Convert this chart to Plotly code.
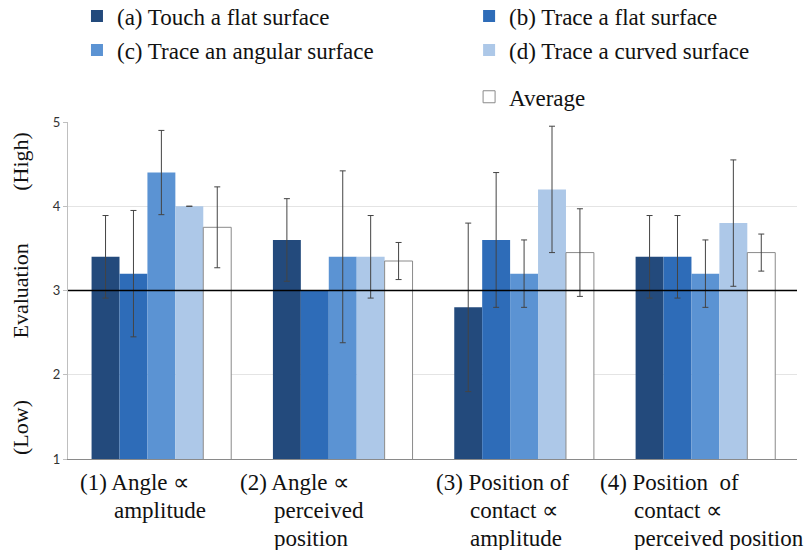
import plotly.graph_objects as go

categories = ["(1) Angle ∝ amplitude", "(2) Angle ∝ perceived position",
              "(3) Position of contact ∝ amplitude", "(4) Position of contact ∝ perceived position"]
category_label_lines = [
    ["(1) Angle ∝", "amplitude"],
    ["(2) Angle ∝", "perceived", "position"],
    ["(3) Position of", "contact ∝", "amplitude"],
    ["(4) Position\u00a0\u00a0of", "contact ∝", "perceived position"],
]
series_names = ["(a) Touch a flat surface", "(b) Trace a flat surface",
                "(c) Trace an angular surface", "(d) Trace a curved surface", "Average"]

touch_flat = [3.4, 3.6, 2.8, 3.4]
touch_flat_err = [0.49, 0.49, 1.0, 0.49]
trace_flat = [3.2, 3.0, 3.6, 3.4]
trace_flat_err = [0.75, 0.0, 0.8, 0.49]
trace_angular = [4.4, 3.4, 3.2, 3.2]
trace_angular_err = [0.5, 1.02, 0.4, 0.4]
trace_curved = [4.0, 3.4, 4.2, 3.8]
trace_curved_err = [0.0, 0.49, 0.75, 0.75]
average = [3.75, 3.35, 3.45, 3.45]
average_err = [0.48, 0.22, 0.52, 0.22]

y_ticks = [1, 2, 3, 4, 5]
neutral_level = 3

colors = ["#234a7c", "#2e6cb8", "#5b93d3", "#adc8e8", "#ffffff"]
values = [touch_flat, trace_flat, trace_angular, trace_curved, average]
errors = [touch_flat_err, trace_flat_err, trace_angular_err, trace_curved_err, average_err]

SERIF = "Liberation Serif, Times New Roman, serif"
TXT = "#111111"

# one legend per entry, placed in container coordinates
legend_ids = ["legend2", "legend3", "legend4", "legend5", "legend6"]
legend_pos = [(0.0955, 0.971), (0.582, 0.971), (0.0955, 0.909), (0.582, 0.909), (0.582, 0.824)]

fig = go.Figure()
for i, (name, vals, errs, col) in enumerate(zip(series_names, values, errors, colors)):
    fig.add_trace(go.Bar(
        x=categories, y=vals, name=name,
        marker=dict(color=col, line=dict(color="#8a8a8a" if i == 4 else col, width=1 if i == 4 else 0)),
        error_y=dict(type="data", array=errs, visible=True, color="#444444", thickness=1, width=3),
        legend=legend_ids[i],
    ))

fig.add_shape(type="line", xref="paper", yref="y", x0=0, x1=1, y0=neutral_level, y1=neutral_level,
              line=dict(color="#000000", width=1.5), layer="above")

label_shifts = [-83, -105, -90, -107]
indent = 34
line_step = 28
for i, lines in enumerate(category_label_lines):
    for k, txt in enumerate(lines):
        fig.add_annotation(x=i, y=0, xref="x", yref="paper", text=txt, showarrow=False,
                           xanchor="left", yanchor="middle",
                           xshift=label_shifts[i] + (indent if k > 0 else 0),
                           yshift=-23 - k * line_step,
                           font=dict(family=SERIF, size=23, color=TXT))

for txt, yv in [("(High)", 4.54), ("Evaluation", 3.0), ("(Low)", 1.38)]:
    fig.add_annotation(x=-0.0645, y=yv, xref="paper", yref="y", text=txt, showarrow=False,
                       textangle=-90, xanchor="center", yanchor="middle",
                       font=dict(family=SERIF, size=22, color=TXT))

layout_legends = {}
for lid, (lx, ly) in zip(legend_ids, legend_pos):
    layout_legends[lid] = dict(x=lx, y=ly, xref="container", yref="container",
                               xanchor="left", yanchor="middle", orientation="h",
                               font=dict(family=SERIF, size=23, color=TXT),
                               bgcolor="rgba(0,0,0,0)")

fig.update_layout(
    width=806, height=550,
    margin=dict(l=68, r=9, t=122, b=91, autoexpand=False),
    paper_bgcolor="white", plot_bgcolor="white",
    barmode="group", bargap=0.23, bargroupgap=0,
    font=dict(family=SERIF, color=TXT),
    xaxis=dict(showticklabels=False, range=[-0.515, 3.505], showline=True, linecolor="#8a8a8a",
               linewidth=1, ticks="", showgrid=False, zeroline=False),
    yaxis=dict(range=[1, 5], tickvals=y_ticks, showgrid=True, gridcolor="#e4e4e4", gridwidth=1,
               showline=True, linecolor="#bfbfbf", linewidth=1, ticks="outside", ticklen=4,
               tickcolor="#bfbfbf", zeroline=False, ticksuffix="\u00a0\u00a0",
               tickfont=dict(family="Lato, Open Sans, sans-serif", size=13, color="#333333")),
    **layout_legends,
)

fig.write_html("out.html", config={"displayModeBar": False},
               post_script="document.body.style.margin='0px';")
